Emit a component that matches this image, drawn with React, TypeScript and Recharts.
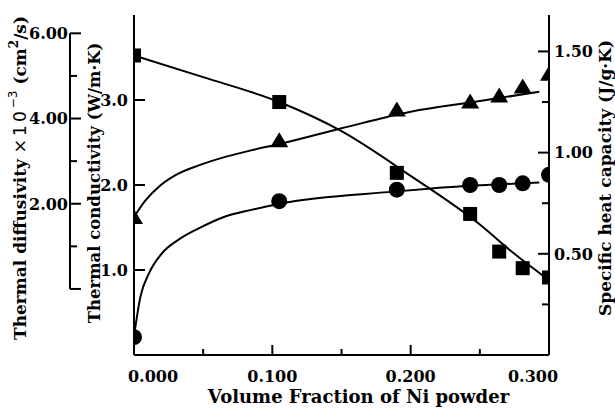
import React from 'react';
import { ComposedChart, Line, Scatter, XAxis, YAxis, Label } from 'recharts';

// measured points (same volume fractions for all three properties)
const volumeFraction = [0, 0.105, 0.19, 0.243, 0.264, 0.281, 0.3];
const heatCapacity = [1.48, 1.25, 0.9, 0.697, 0.511, 0.429, 0.383]; // J/g·K
const conductivity = [0.21, 1.81, 1.945, 2.0, 2.0, 2.02, 2.12]; // W/m·K
const diffusivity = [1.69, 3.49, 4.21, 4.4, 4.54, 4.75, 5.05]; // x10^-3 cm2/s

// fitted curves
const cpFitX = [0, 0.05, 0.105, 0.15, 0.2, 0.25, 0.275, 0.3];
const cpFitY = [1.48, 1.373, 1.25, 1.106, 0.885, 0.645, 0.5, 0.37];
const kFitX = [0, 0.0047, 0.0108, 0.0204, 0.0325, 0.0468, 0.066, 0.0855, 0.105, 0.19, 0.215, 0.293];
const kFitY = [0.22, 0.69, 0.96, 1.2, 1.36, 1.49, 1.63, 1.71, 1.78, 1.925, 1.96, 2.03];
const aFitX = [0, 0.0083, 0.018, 0.03, 0.0468, 0.066, 0.0855, 0.105, 0.15, 0.2, 0.25, 0.293];
const aFitY = [1.69, 2.08, 2.4, 2.67, 2.9, 3.1, 3.26, 3.4, 3.77, 4.16, 4.41, 4.63];

const xTicks = [0, 0.05, 0.1, 0.15, 0.2, 0.25, 0.3];
const xLabelled = [0, 0.1, 0.2, 0.3];
const kTicks = [1, 2, 3];
const aTicks = [0, 1, 2, 3, 4, 5, 6];
const aLabelled = [2, 4, 6];
const cpTicks = [0.25, 0.5, 0.75, 1, 1.25, 1.5];
const cpLabelled = [0.5, 1, 1.5];

const kDomain = [0, 4];
const aDomain = [-1.55, 6.43];
const cpDomain = [0, 1.68];

const toRows = (xs: number[], ys: number[]) => xs.map((x, i) => ({ x, y: ys[i] }));

const FONT = "'DejaVu Serif', serif";
const has = (list: number[], v: number) => list.some((l) => Math.abs(l - v) < 1e-9);

const makeYTick =
  (side: 'left' | 'right', labelled: number[], major: number[], digits: number, gap: number) =>
  (props: any) => {
    const { x, y, payload } = props;
    const v = payload.value as number;
    const dir = side === 'left' ? 1 : -1;
    const len = has(major, v) ? 11 : 7;
    return (
      <g>
        <line x1={x} x2={x + dir * len} y1={y} y2={y} stroke="#000" strokeWidth={2} />
        {has(labelled, v) && (
          <text
            x={x - dir * gap}
            y={y}
            dy="0.36em"
            textAnchor={side === 'left' ? 'end' : 'start'}
            fontFamily={FONT}
            fontWeight="bold"
            fontSize={16}
            fill="#000"
          >
            {v.toFixed(digits)}
          </text>
        )}
      </g>
    );
  };

const XTick = (props: any) => {
  const { x, y, payload } = props;
  const v = payload.value as number;
  const lab = has(xLabelled, v);
  const shift = v === 0 ? 19 : v === 0.3 ? -16 : 0;
  return (
    <g>
      <line x1={x} x2={x} y1={y} y2={y - (lab ? 10 : 6)} stroke="#000" strokeWidth={2} />
      {lab && (
        <text x={x + shift} y={y + 27} textAnchor="middle" fontFamily={FONT} fontWeight="bold" fontSize={16} fill="#000">
          {v.toFixed(3)}
        </text>
      )}
    </g>
  );
};

const SquareDot = (p: any) => <rect x={p.cx - 7} y={p.cy - 7} width={14} height={14} fill="#000" />;
const CircleDot = (p: any) => <circle cx={p.cx} cy={p.cy} r={8} fill="#000" />;
const TriangleDot = (p: any) => (
  <polygon points={`${p.cx},${p.cy - 8} ${p.cx + 9},${p.cy + 7} ${p.cx - 9},${p.cy + 7}`} fill="#000" />
);

const vTitle = (dx: number, dyc: number, size: number, children: React.ReactNode) => (props: any) => {
  const vb = props.viewBox;
  const cx = vb.x + dx;
  const cy = vb.y + vb.height / 2 + dyc;
  return (
    <text
      x={cx}
      y={cy}
      transform={`rotate(-90, ${cx}, ${cy})`}
      textAnchor="middle"
      dominantBaseline="central"
      fontFamily={FONT}
      fontWeight="bold"
      fontSize={size}
      fill="#000"
    >
      {children}
    </text>
  );
};

const lineProps = {
  dataKey: 'y',
  type: 'monotone' as const,
  stroke: '#000',
  strokeWidth: 2,
  dot: false,
  activeDot: false,
  isAnimationActive: false,
};

export default function App() {
  const aSpan = aDomain[1] - aDomain[0];
  const top = ((aDomain[1] - 6) / aSpan) * 340;
  const len = (6 / aSpan) * 340;
  return (
    <div style={{ position: 'absolute', left: 0, top: 0, width: 615, height: 410, background: '#fff' }}>
      <ComposedChart width={615} height={410} margin={{ top: 15, right: 0, bottom: 0, left: 0 }}>
        <XAxis
          dataKey="x"
          type="number"
          domain={[0, 0.3]}
          ticks={xTicks}
          interval={0}
          height={55}
          tickSize={0}
          tickMargin={0}
          tickLine={false}
          tick={XTick}
          axisLine={{ stroke: '#000', strokeWidth: 2 }}
          allowDataOverflow
        >
          <Label
            content={(p: any) => (
              <text
                x={p.viewBox.x + p.viewBox.width / 2 + 17}
                y={p.viewBox.y + 48}
                textAnchor="middle"
                fontFamily={FONT}
                fontWeight="bold"
                fontSize={18}
                fill="#000"
              >
                Volume Fraction of Ni powder
              </text>
            )}
          />
        </XAxis>
        <XAxis
          xAxisId="top"
          orientation="top"
          type="number"
          domain={[0, 0.3]}
          height={0}
          tick={false}
          tickLine={false}
          axisLine={{ stroke: '#000', strokeWidth: 2 }}
        />
        <YAxis
          yAxisId="cond"
          orientation="left"
          type="number"
          domain={kDomain}
          ticks={kTicks}
          interval={0}
          width={64}
          tickSize={0}
          tickMargin={0}
          tickLine={false}
          tick={makeYTick('left', kTicks, kTicks, 1, 6)}
          axisLine={{ stroke: '#000', strokeWidth: 2 }}
          allowDataOverflow
        >
          <Label content={vTitle(24, -2, 16.5, 'Thermal conductivity (W/m·K)')} />
        </YAxis>
        <YAxis
          yAxisId="diff"
          orientation="left"
          type="number"
          domain={aDomain}
          ticks={aTicks}
          interval={0}
          width={70}
          tickSize={0}
          tickMargin={0}
          tickLine={false}
          tick={makeYTick('left', aLabelled, [0, 2, 4, 6], 2, 2)}
          axisLine={{ stroke: '#000', strokeWidth: 2, strokeDasharray: `0 ${top} ${len} 1000` }}
          allowDataOverflow
        >
          <Label
            content={vTitle(
              20,
              -7,
              17,
              <>
                <tspan>Thermal diffusivity </tspan>
                <tspan fontWeight="normal" fontFamily="'DejaVu Sans', sans-serif" letterSpacing="3">
                  {' ×10'}
                </tspan>
                <tspan fontWeight="normal" fontFamily="'DejaVu Sans', sans-serif" fontSize={12} dy={-7}>
                  −3
                </tspan>
                <tspan dy={7}>{'  (cm'}</tspan>
                <tspan fontSize={12} dy={-6}>
                  2
                </tspan>
                <tspan dy={6}>/s)</tspan>
              </>
            )}
          />
        </YAxis>
        <YAxis
          yAxisId="cp"
          orientation="right"
          type="number"
          domain={cpDomain}
          ticks={cpTicks}
          interval={0}
          width={66}
          tickSize={0}
          tickMargin={0}
          tickLine={false}
          tick={makeYTick('right', cpLabelled, cpLabelled, 2, 5)}
          axisLine={{ stroke: '#000', strokeWidth: 2 }}
          allowDataOverflow
        >
          <Label content={vTitle(56, -7, 17, 'Specific heat capacity (J/g·K)')} />
        </YAxis>

        <Line yAxisId="cp" data={toRows(cpFitX, cpFitY)} {...lineProps} />
        <Line yAxisId="cond" data={toRows(kFitX, kFitY)} {...lineProps} />
        <Line yAxisId="diff" data={toRows(aFitX, aFitY)} {...lineProps} />
        <Scatter yAxisId="cp" data={toRows(volumeFraction, heatCapacity)} dataKey="y" shape={SquareDot} isAnimationActive={false} />
        <Scatter yAxisId="cond" data={toRows(volumeFraction, conductivity)} dataKey="y" shape={CircleDot} isAnimationActive={false} />
        <Scatter yAxisId="diff" data={toRows(volumeFraction, diffusivity)} dataKey="y" shape={TriangleDot} isAnimationActive={false} />
      </ComposedChart>
    </div>
  );
}
